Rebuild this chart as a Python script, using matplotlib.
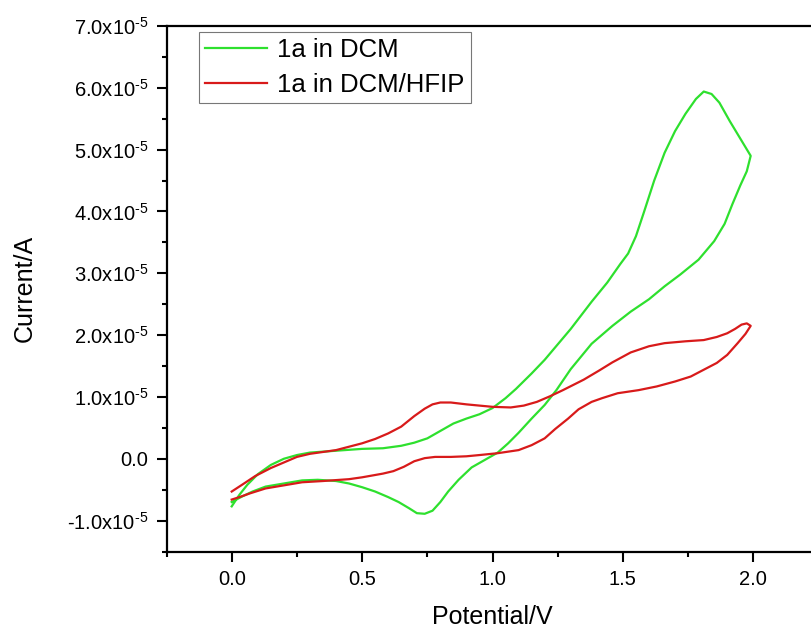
import matplotlib
matplotlib.use('Agg')
import matplotlib.pyplot as plt
from matplotlib.ticker import MultipleLocator, FuncFormatter

plt.rcParams['font.family'] = ['Liberation Sans', 'DejaVu Sans']
plt.rcParams['mathtext.fontset'] = 'custom'
plt.rcParams['mathtext.rm'] = 'Liberation Sans'
plt.rcParams['mathtext.it'] = 'Liberation Sans:italic'

# cyclic voltammograms, potential in V, current in units of 1e-5 A
dcm_potential = [0.0, 0.03, 0.06, 0.1, 0.15, 0.2, 0.25, 0.3, 0.4, 0.5, 0.58, 0.65, 0.7, 0.75,
                 0.8, 0.85, 0.9, 0.95, 1.0, 1.05, 1.09, 1.15, 1.2, 1.25, 1.3, 1.38, 1.44, 1.49,
                 1.52, 1.55, 1.58, 1.62, 1.66, 1.7, 1.74, 1.78, 1.81, 1.84, 1.87, 1.91, 1.95, 1.99,
                 1.975, 1.95, 1.92, 1.89, 1.85, 1.79, 1.72, 1.66, 1.6, 1.53, 1.46, 1.38, 1.3,
                 1.245, 1.2, 1.15, 1.1, 1.06, 1.02, 0.97, 0.92, 0.87, 0.83, 0.8, 0.77, 0.74, 0.71,
                 0.68, 0.64, 0.6, 0.55, 0.5, 0.45, 0.4, 0.33, 0.27, 0.2, 0.13, 0.08, 0.04, 0.0]
dcm_current = [-0.77, -0.58, -0.42, -0.25, -0.1, 0.0, 0.06, 0.1, 0.13, 0.16, 0.17, 0.21, 0.26, 0.33,
               0.45, 0.57, 0.65, 0.72, 0.82, 0.98, 1.13, 1.38, 1.6, 1.85, 2.1, 2.54, 2.85, 3.15,
               3.32, 3.6, 3.98, 4.5, 4.95, 5.3, 5.58, 5.82, 5.94, 5.9, 5.76, 5.46, 5.18, 4.9,
               4.65, 4.42, 4.12, 3.8, 3.52, 3.22, 2.98, 2.79, 2.58, 2.38, 2.15, 1.86, 1.45,
               1.11, 0.87, 0.65, 0.42, 0.25, 0.1, -0.02, -0.14, -0.34, -0.53, -0.7, -0.84, -0.89, -0.88,
               -0.8, -0.7, -0.62, -0.53, -0.46, -0.4, -0.36, -0.34, -0.35, -0.4, -0.45, -0.53, -0.61, -0.70]

hfip_potential = [0.0, 0.04, 0.09, 0.15, 0.2, 0.25, 0.3, 0.4, 0.5, 0.55, 0.6, 0.65, 0.7, 0.74,
                  0.77, 0.8, 0.84, 0.9, 0.95, 1.0, 1.07, 1.12, 1.17, 1.22, 1.27, 1.35, 1.41, 1.46,
                  1.53, 1.6, 1.66, 1.74, 1.81, 1.86, 1.9, 1.93, 1.955, 1.975, 1.99,
                  1.97, 1.94, 1.9, 1.86, 1.81, 1.76, 1.7, 1.63, 1.56, 1.48, 1.42, 1.38, 1.33,
                  1.29, 1.24, 1.2, 1.15, 1.1, 1.02, 0.95, 0.9, 0.84, 0.78, 0.74, 0.7, 0.66,
                  0.62, 0.58, 0.5, 0.45, 0.35, 0.27, 0.2, 0.13, 0.07, 0.03, 0.0]
hfip_current = [-0.53, -0.42, -0.28, -0.15, -0.06, 0.03, 0.08, 0.14, 0.25, 0.32, 0.41, 0.52, 0.69, 0.81,
                0.88, 0.91, 0.91, 0.88, 0.86, 0.84, 0.83, 0.86, 0.92, 1.01, 1.11, 1.28, 1.43, 1.56,
                1.72, 1.82, 1.87, 1.9, 1.92, 1.97, 2.03, 2.1, 2.17, 2.19, 2.15,
                2.02, 1.87, 1.68, 1.55, 1.44, 1.33, 1.25, 1.17, 1.11, 1.06, 0.98, 0.92, 0.8,
                0.65, 0.48, 0.33, 0.22, 0.14, 0.09, 0.06, 0.04, 0.03, 0.03, 0.01, -0.04, -0.13,
                -0.2, -0.24, -0.3, -0.33, -0.36, -0.38, -0.43, -0.48, -0.56, -0.62, -0.66]

series = [
    ('1a in DCM', dcm_potential, dcm_current, '#2ee02e'),
    ('1a in DCM/HFIP', hfip_potential, hfip_current, '#d81a1a'),
]


def sci_label(v, pos):
    if abs(v) < 1e-12:
        return '0.0'
    return f'{v / 1e-5:.1f}x10' + r'$^{\text{-5}}$'


fig = plt.figure(figsize=(8.11, 6.30), dpi=100)
ax = fig.add_axes([166.5 / 811, 1 - 551.5 / 630, 652 / 811, 525.5 / 630])

for label, pot, cur, color in series:
    ax.plot(pot, [c * 1e-5 for c in cur], color=color, linewidth=1.6, label=label)

ax.set_xlim(-0.25, 2.25)
ax.set_ylim(-1.5e-5, 7.0e-5)
ax.xaxis.set_major_locator(MultipleLocator(0.5))
ax.xaxis.set_minor_locator(MultipleLocator(0.25))
ax.yaxis.set_major_locator(MultipleLocator(1e-5))
ax.yaxis.set_minor_locator(MultipleLocator(0.5e-5))
ax.yaxis.set_major_formatter(FuncFormatter(sci_label))
ax.xaxis.set_major_formatter(FuncFormatter(lambda v, p: f'{v:.1f}'))
ax.set_xticks([0.0, 0.5, 1.0, 1.5, 2.0])

ax.tick_params(which='major', direction='out', length=7, width=1.5, labelsize=14.5, pad=6)
ax.tick_params(which='minor', direction='out', length=3.6, width=1.5)
for side in ['left', 'bottom', 'top']:
    ax.spines[side].set_linewidth(1.6)
ax.spines['right'].set_visible(False)

ax.set_xlabel('Potential/V', fontsize=18, labelpad=12)
ax.set_ylabel('Current/A', fontsize=18, labelpad=22)

legend = ax.legend(loc='upper left', bbox_to_anchor=(199 / 811, 1 - 32 / 630),
                   bbox_transform=fig.transFigure, fontsize=18.5, frameon=True, fancybox=False,
                   borderaxespad=0, handlelength=2.4, handletextpad=0.4, borderpad=0.25,
                   labelspacing=0.4, handleheight=0.7)
legend.get_frame().set_edgecolor('#555555')
legend.get_frame().set_linewidth(0.8)

fig.savefig('out.png', dpi=100)
